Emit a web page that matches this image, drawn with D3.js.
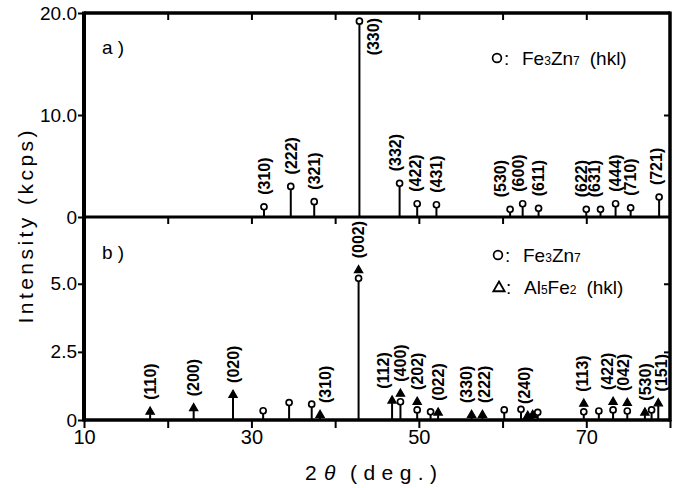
<!DOCTYPE html>
<html><head><meta charset="utf-8">
<script src="https://cdn.jsdelivr.net/npm/d3@7"></script>
<style>
body{margin:0;background:#fff}
svg{display:block}
text{font-family:"Liberation Sans",Arial,Helvetica,sans-serif;fill:#000}
</style>
</head><body>
<svg id="c" width="678" height="488"></svg>
<script>
// ---------- data ----------
// panel a) Fe3Zn7 peaks
const aTheta     = [31.5, 34.7, 37.5, 42.9, 47.7, 49.8, 52.1, 60.9, 62.4, 64.3, 70.0, 71.7, 73.5, 75.3, 78.7];
const aIntensity = [1.0,  3.0,  1.5,  19.2, 3.3,  1.3,  1.2,  0.75, 1.3,  0.85, 0.75, 0.75, 1.3,  0.9,  1.95];
const aHkl       = ["(310)","(222)","(321)","(330)","(332)","(422)","(431)","(530)","(600)","(611)","(622)","(631)","(444)","(710)","(721)"];

// panel b) Fe3Zn7 (o) and Al5Fe2 (^) peaks; "o^" = both at same angle
const bTheta     = [17.9, 23.1, 27.8, 31.4, 34.5, 37.2, 38.2, 42.8, 46.8, 47.8, 49.8, 51.4, 52.3, 56.3, 57.6, 60.2, 62.2, 63.0, 63.6, 64.2, 69.7, 71.5, 73.2, 74.9, 77.0, 77.8, 78.6];
const bIntensity = [0.30, 0.43, 0.92, 0.34, 0.64, 0.58, 0.18, 5.2,  0.71, 0.67, 0.37, 0.30, 0.27, 0.18, 0.18, 0.37, 0.39, 0.15, 0.18, 0.28, 0.30, 0.33, 0.37, 0.33, 0.27, 0.37, 0.61];
const bMarker    = ["^","^","^","o","o","o","^","o^","^","o^","o^","o","^","^","^","o","o","^","^","o","o^","o","o^","o^","^","o","^"];
const bHkl       = ["(110)","(200)","(020)","","","","(310)","(002)","(112)","(400)","(202)","","(022)","(330)","(222)","","","(240)","","","(113)","","(422)","(042)","(530)","","(151)"];

const xTicks       = [10, 20, 30, 40, 50, 60, 70, 80];
const xTickLabels  = ["10", "", "30", "", "50", "", "70", ""];
const aYTicks      = [0, 10, 20];
const aYTickLabels = ["0", "10.0", "20.0"];
const bYTicks      = [0, 2.5, 5];
const bYTickLabels = ["0", "2.5", "5.0"];

// ---------- layout ----------
const svg = d3.select("#c");
const L = 84, R = 670, T = 13, M = 217, B = 420;
const x  = d3.scaleLinear().domain([10, 80]).range([L, R]);
const ya = d3.scaleLinear().domain([0, 20]).range([M, T]);
const yb = d3.scaleLinear().domain([0, 7.45]).range([B, M]);

const labelDx = {
  a: {"(332)": -4, "(422)": -2, "(530)": -10, "(600)": -4, "(622)": -5, "(631)": -6, "(721)": -3},
  b: {"(310)": 5, "(112)": -9, "(330)": -5, "(222)": 2, "(240)": -3, "(113)": -2, "(422)": -6, "(042)": -4, "(151)": 3}
};

function styleAxis(g, fs) {
  g.select(".domain").remove();
  g.selectAll(".tick line").attr("stroke", "#000").attr("stroke-width", 2);
  g.selectAll(".tick text").attr("font-size", fs).attr("fill", "#000")
    .attr("font-family", '"Liberation Sans",Arial,sans-serif');
}

// left axes (outward ticks with labels)
svg.append("g").attr("transform", `translate(${L},0)`)
  .call(d3.axisLeft(ya).tickValues(aYTicks).tickSize(6).tickPadding(1)
    .tickFormat((d, i) => aYTickLabels[i]))
  .call(g => styleAxis(g, 19));
svg.append("g").attr("transform", `translate(${L},0)`)
  .call(d3.axisLeft(yb).tickValues(bYTicks).tickSize(6).tickPadding(1)
    .tickFormat((d, i) => bYTickLabels[i]))
  .call(g => styleAxis(g, 19));

// right inward ticks
svg.append("g").attr("transform", `translate(${R},0)`)
  .call(d3.axisLeft(ya).tickValues([10]).tickSize(6).tickFormat(""))
  .call(g => styleAxis(g, 0));
svg.append("g").attr("transform", `translate(${R},0)`)
  .call(d3.axisLeft(yb).tickValues([2.5, 5]).tickSize(6).tickFormat(""))
  .call(g => styleAxis(g, 0));

// top inward ticks (panel a top and panel b top)
[T, M].forEach(yy => {
  svg.append("g").attr("transform", `translate(0,${yy})`)
    .call(d3.axisBottom(x).tickValues(xTicks.slice(1, -1)).tickSize(7).tickFormat(""))
    .call(g => styleAxis(g, 0));
});

// bottom axis (outward)
svg.append("g").attr("transform", `translate(0,${B})`)
  .call(d3.axisBottom(x).tickValues(xTicks).tickSize(8).tickPadding(2)
    .tickFormat((d, i) => xTickLabels[i]))
  .call(g => styleAxis(g, 20));

// frame
svg.append("line").attr("x1", L).attr("x2", R).attr("y1", T).attr("y2", T).attr("stroke", "#000").attr("stroke-width", 3.5);
svg.append("line").attr("x1", L).attr("x2", R).attr("y1", M).attr("y2", M).attr("stroke", "#000").attr("stroke-width", 3);
svg.append("line").attr("x1", L).attr("x2", R).attr("y1", B).attr("y2", B).attr("stroke", "#000").attr("stroke-width", 3.5);
svg.append("line").attr("x1", L).attr("x2", L).attr("y1", T - 1.5).attr("y2", B + 1.5).attr("stroke", "#000").attr("stroke-width", 4);
svg.append("line").attr("x1", R).attr("x2", R).attr("y1", T - 1.5).attr("y2", B + 1.5).attr("stroke", "#000").attr("stroke-width", 3.5);

// markers
const CR = 3;
const triPath = d3.symbol().type(d3.symbolTriangle).size(30)();
function circle(g, cx, cy) {
  g.append("circle").attr("cx", cx).attr("cy", cy).attr("r", CR)
    .attr("fill", "#fff").attr("stroke", "#000").attr("stroke-width", 1.7);
}
function tri(g, cx, cy) {
  g.append("path").attr("d", triPath).attr("transform", `translate(${cx},${cy})`)
    .attr("fill", "#000").attr("stroke", "#000").attr("stroke-width", 1.2).attr("stroke-linejoin", "miter");
}
function hklLabel(g, cx, bottom, txt, anchor) {
  g.append("text").attr("transform", `translate(${cx},${bottom}) rotate(-90)`)
    .attr("dy", "0.36em").attr("text-anchor", anchor || "start")
    .attr("font-size", 16).attr("font-weight", "bold").text(txt);
}

// panel a peaks
const ga = svg.append("g");
aTheta.forEach((t, i) => {
  const px = x(t), py = ya(aIntensity[i]);
  ga.append("line").attr("x1", px).attr("x2", px).attr("y1", ya(0)).attr("y2", py + CR)
    .attr("stroke", "#000").attr("stroke-width", 2);
  circle(ga, px, py);
  const lab = aHkl[i];
  if (lab === "(330)") {
    hklLabel(ga, px + 14, T + 5, lab, "end");
  } else {
    hklLabel(ga, px + (labelDx.a[lab] || 0), py - 12, lab);
  }
});

// panel b peaks
const gb = svg.append("g");
bTheta.forEach((t, i) => {
  const px = x(t), py = yb(bIntensity[i]), m = bMarker[i];
  const stemTop = m === "^" ? py + 2.5 : py + CR;
  gb.append("line").attr("x1", px).attr("x2", px).attr("y1", yb(0)).attr("y2", stemTop)
    .attr("stroke", "#000").attr("stroke-width", 2);
  let top = py;
  if (m === "o") circle(gb, px, py);
  if (m === "^") tri(gb, px, py);
  if (m === "o^") { circle(gb, px, py); tri(gb, px, py - 8); top = py - 8; }
  const lab = bHkl[i];
  if (lab) hklLabel(gb, px + (labelDx.b[lab] || 0), top - 12, lab);
});

// panel tags
svg.append("text").attr("x", 102).attr("y", 54).attr("font-size", 19).text("a )");
svg.append("text").attr("x", 102).attr("y", 259).attr("font-size", 19).text("b )");

// legends
function legendEntry(sym, cx, cy, parts) {
  if (sym === "o") {
    svg.append("circle").attr("cx", cx).attr("cy", cy).attr("r", 4.4)
      .attr("fill", "#fff").attr("stroke", "#000").attr("stroke-width", 1.7);
  } else {
    svg.append("path").attr("d", d3.symbol().type(d3.symbolTriangle).size(55)())
      .attr("transform", `translate(${cx},${cy + 1})`)
      .attr("fill", "#fff").attr("stroke", "#000").attr("stroke-width", 1.8);
  }
  const t = svg.append("text").attr("x", cx + 7).attr("y", cy + 7).attr("font-size", 19);
  t.append("tspan").text(":");
  parts.forEach((p, k) => {
    const s = t.append("tspan").text(p[0]);
    if (k === 0) s.attr("x", cx + 25);
    if (p[1] === "sub") s.attr("font-size", 12);
    if (p[1] === "gap") s.attr("dx", 10);
  });
}
legendEntry("o", 497, 58, [["Fe"], ["3", "sub"], ["Zn"], ["7", "sub"], ["(hkl)", "gap"]]);
legendEntry("o", 498, 255, [["Fe"], ["3", "sub"], ["Zn"], ["7", "sub"]]);
legendEntry("^", 499, 287, [["Al"], ["5", "sub"], ["Fe"], ["2", "sub"], ["(hkl)", "gap"]]);

// axis titles
svg.append("text").attr("transform", "translate(33,227) rotate(-90)")
  .attr("text-anchor", "middle").attr("font-size", 21)
  .attr("textLength", 193).attr("lengthAdjust", "spacing")
  .text("Intensity (kcps)");
const xt = svg.append("text").attr("y", 480).attr("font-size", 21);
xt.append("tspan").attr("x", 305).text("2");
xt.append("tspan").attr("x", 324).attr("font-style", "italic").text("θ");
xt.append("tspan").attr("x", 350).attr("textLength", 87).attr("lengthAdjust", "spacing").text("(deg.)");
</script>
</body></html>
